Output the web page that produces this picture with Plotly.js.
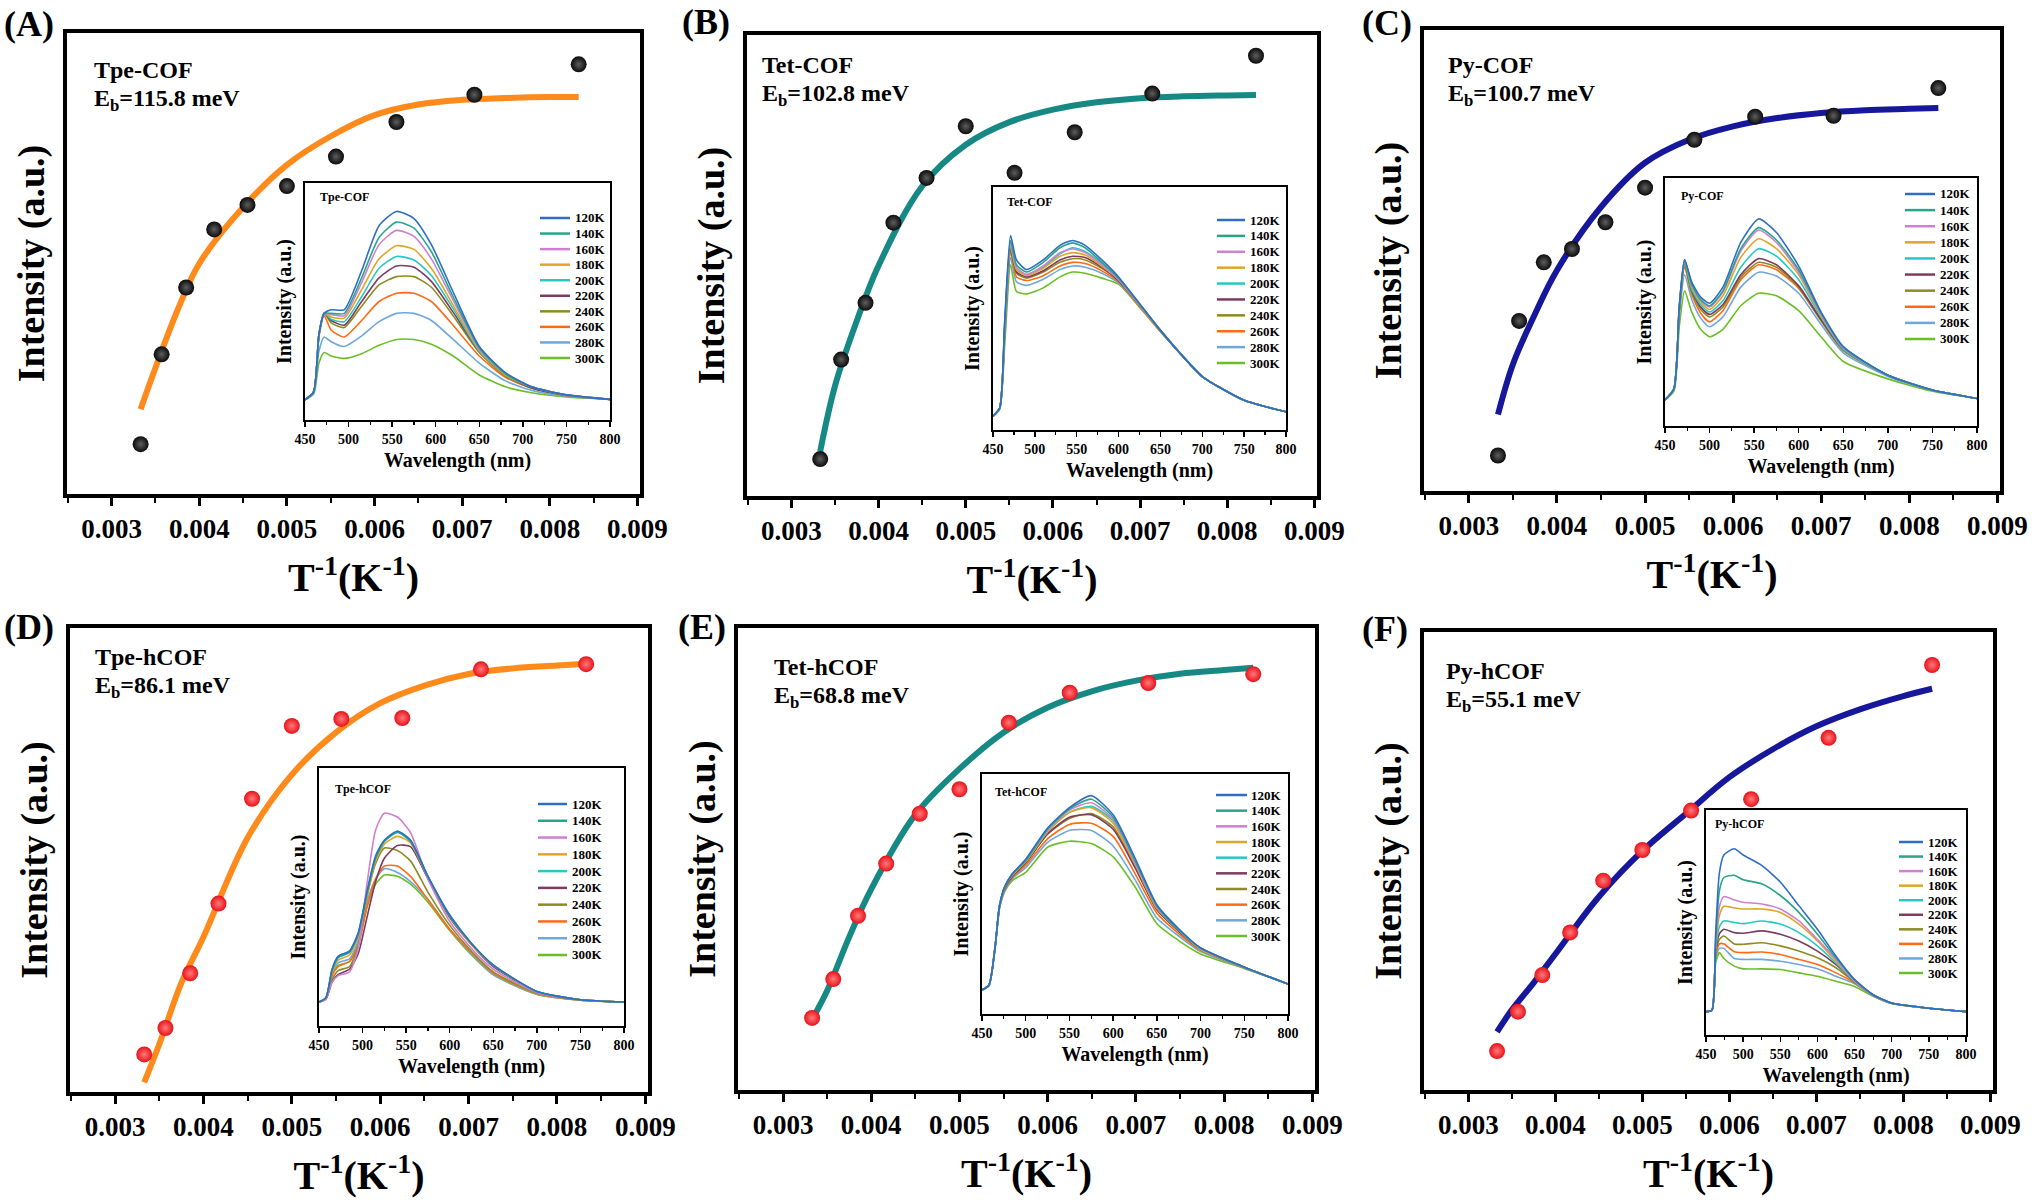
<!DOCTYPE html>
<html><head><meta charset="utf-8">
<script src="https://cdn.plot.ly/plotly-3.0.1.min.js"></script>
<style>html,body{margin:0;padding:0;background:#fff}#chart{width:2032px;height:1200px}</style>
</head><body><div id="chart"></div>
<script>
// ---------- main panels: 1/T (K^-1) vs integrated intensity (a.u., 0-100 scale) ----------
const invT = [0.00333, 0.00357, 0.00385, 0.00417, 0.00455, 0.00500, 0.00556, 0.00625, 0.00714, 0.00833];
const dotsA = [10.8, 30.3, 44.8, 57.4, 62.7, 66.8, 73.2, 80.7, 86.6, 93.2];
const dotsB = [8.0, 29.6, 41.9, 59.3, 69.0, 80.2, 70.1, 78.9, 87.3, 95.5];
const dotsC = [7.7, 36.9, 49.6, 52.5, 58.3, 65.8, 76.2, 81.2, 81.4, 87.4];
const dotsD = [8.1, 13.8, 25.6, 40.6, 63.2, 78.9, 80.4, 80.6, 91.1, 92.2];
const dotsE = [15.6, 24.0, 37.7, 49.0, 59.8, 65.1, 79.5, 86.0, 88.1, 90.0];
const dotsF = [8.5, 17.1, 25.1, 34.4, 45.7, 52.4, 61.0, 63.5, 76.9, 92.8];

const fitX = [0.00333, 0.0035, 0.00375, 0.004, 0.0045, 0.005, 0.0055, 0.006, 0.0065, 0.007, 0.0075, 0.008, 0.00833];
const fitA = [18.4, 27.4, 39.8, 50.0, 62.2, 71.4, 77.6, 82.2, 84.5, 85.5, 85.9, 86.1, 86.1];
const fitB = [9.7, 23.9, 38.0, 50.0, 67.2, 76.2, 81.1, 83.8, 85.4, 86.3, 86.7, 86.9, 87.0];
const fitC = [16.6, 27.5, 38.4, 47.9, 61.6, 71.2, 76.2, 79.1, 80.9, 82.0, 82.6, 82.9, 83.1];
const fitD = [2.1, 10.3, 23.5, 33.4, 54.8, 68.4, 77.5, 83.8, 87.6, 90.1, 91.3, 91.9, 92.3];
const fitE = [15.3, 21.5, 33.1, 43.5, 59.6, 69.5, 77.4, 82.8, 86.3, 88.6, 90.1, 90.9, 91.4];
const fitF = [12.7, 17.5, 23.4, 29.7, 42.2, 52.2, 60.3, 68.3, 74.4, 79.4, 83.1, 86.0, 87.6];

const xTickVals = [0.003, 0.004, 0.005, 0.006, 0.007, 0.008, 0.009];
const xTickText = ['0.003', '0.004', '0.005', '0.006', '0.007', '0.008', '0.009'];
const sampleNames = ['Tpe-COF', 'Tet-COF', 'Py-COF', 'Tpe-hCOF', 'Tet-hCOF', 'Py-hCOF'];
const bindingEnergies = ['115.8', '102.8', '100.7', '86.1', '68.8', '55.1'];
const panelLetters = ['(A)', '(B)', '(C)', '(D)', '(E)', '(F)'];

// ---------- insets: temperature-dependent PL spectra ----------
const tempLabels = ['120K', '140K', '160K', '180K', '200K', '220K', '240K', '260K', '280K', '300K'];
const wlTicks = [450, 500, 550, 600, 650, 700, 750, 800];

const wlA = [450, 460, 466, 472, 480, 495, 515, 535, 555, 575, 595, 620, 650, 680, 710, 750, 800];
const specA = [
  [8.5, 12, 36, 45, 46.5, 46.5, 63, 82, 88, 85, 74, 54, 31, 20, 14, 10.6, 8.7],
  [8.5, 12, 36, 45, 45, 45, 60, 77, 83.5, 81, 71, 52, 30.5, 19.5, 14, 10.6, 8.7],
  [8.5, 12, 36, 45, 44.5, 44, 58, 74, 80, 77.5, 68, 50.5, 30, 19.5, 14, 10.6, 8.7],
  [8.5, 12, 36, 45, 43.5, 43, 55, 68, 73.5, 72, 64, 48.5, 29.5, 19, 14, 10.5, 8.7],
  [8.5, 12, 36, 45, 42.5, 41.5, 52, 64, 69, 67.5, 61, 47, 29, 19, 14, 10.5, 8.7],
  [8.5, 12, 36, 45, 42, 40, 50, 60, 65, 64.5, 58.5, 45.5, 29, 19, 13.5, 10.5, 8.7],
  [8.5, 12, 36, 45, 41, 39, 48, 57, 60.5, 60.5, 56, 44, 28.5, 18.5, 13.5, 10.5, 8.7],
  [8.5, 12, 35, 44, 38, 35, 42, 50, 53.5, 53.5, 50, 40, 27, 18, 13.5, 10.3, 8.7],
  [8.5, 11.5, 29, 35, 33, 31, 35.5, 41.5, 45, 45, 42, 34, 24, 16.5, 12.5, 10, 8.7],
  [8.5, 11, 24, 28.5, 27, 26, 28, 31.5, 34, 34, 32, 27, 19, 14, 11.5, 9.7, 8.7]
];
const wlB = [450, 458, 464, 471, 478, 490, 510, 530, 545, 560, 580, 600, 625, 650, 675, 700, 750, 800];
const specB = [
  [5.7, 9, 45, 80, 70, 66, 70, 76, 78, 76, 70, 63, 52, 41, 31, 22, 12.2, 7.5],
  [5.7, 9, 44, 78, 68, 65, 69, 75, 77, 75, 69, 62.5, 52, 41, 31, 22, 12.2, 7.5],
  [5.7, 9, 43, 77, 67, 64, 67.5, 73, 74.5, 73, 68, 62, 51.5, 41, 31, 22, 12.2, 7.5],
  [5.7, 9, 42, 76, 66, 63.5, 66.5, 71.5, 73, 72, 67.5, 62, 51.5, 41, 31, 22, 12.2, 7.5],
  [5.7, 9, 42, 76, 66, 64, 67, 72.5, 75, 73.5, 68.5, 62.5, 52, 41, 31, 22, 12.2, 7.5],
  [5.7, 9, 41, 75, 65, 63, 65.5, 70, 71.5, 71, 67, 61.5, 51.5, 41, 31, 22, 12.2, 7.5],
  [5.7, 9, 41, 74, 64.5, 62.5, 65, 69, 70.5, 70, 66.5, 61.5, 51.5, 41, 31, 22, 12.2, 7.5],
  [5.7, 9, 40, 73, 63, 61.5, 63.5, 67.5, 69, 68.5, 65.5, 61, 51, 40.5, 31, 22, 12.2, 7.5],
  [5.7, 9, 38, 71, 61, 59.5, 62, 66, 67.5, 67, 64.5, 60.5, 51, 40.5, 31, 22, 12.2, 7.5],
  [5.7, 8.5, 35, 68, 57, 56, 58.5, 63, 65, 64.5, 62.5, 60, 50.5, 40.5, 31, 22, 12.2, 7.5]
];
const wlC = [450, 460, 466, 472, 480, 490, 500, 515, 535, 555, 575, 600, 625, 650, 700, 750, 800];
const specC = [
  [10.5, 15, 48, 67, 58, 52, 49.5, 56, 74, 83.5, 78, 64.5, 46, 32, 20.5, 14.5, 11.1],
  [10.5, 15, 48, 67, 57, 51, 48.5, 54.5, 71.5, 80, 75, 63, 45.5, 31.8, 20.5, 14.5, 11.1],
  [10.5, 15, 48, 67, 57, 50.5, 48, 54, 70.5, 79, 74, 62, 45, 31.5, 20.5, 14.5, 11.1],
  [10.5, 15, 48, 67, 56, 50, 47, 52.5, 68, 75.5, 71.5, 61, 44.5, 31.5, 20.5, 14.5, 11.1],
  [10.5, 15, 47, 66, 55, 49, 46, 50.5, 64, 71.5, 68.5, 59, 44, 31, 20.5, 14.5, 11.1],
  [10.5, 15, 47, 66, 54.5, 48, 45, 49, 61, 67.5, 65, 56.5, 43, 31, 20.5, 14.5, 11.1],
  [10.5, 15, 47, 65, 54, 47, 44, 48, 60, 66, 64, 56, 42.5, 30.5, 20.5, 14.5, 11.1],
  [10.5, 15, 46, 64, 53, 45.5, 42, 46.5, 59, 65, 63, 55.5, 42.5, 30.5, 20.5, 14.5, 11.1],
  [10.5, 15, 44, 61, 51, 43.5, 40, 44, 56, 62, 60.5, 53.5, 41, 29.5, 20, 14.3, 11.1],
  [10.5, 14, 40, 54.5, 46, 39, 36, 39, 48.5, 53.5, 52.5, 46.5, 36, 26, 19, 14, 11.1]
];
const wlD = [450, 458, 465, 472, 485, 495, 505, 515, 525, 540, 555, 575, 600, 625, 650, 700, 750, 800];
const specD = [
  [9.3, 11, 22, 27, 29, 36, 52, 66, 72, 75.5, 72, 58, 43, 32, 23.7, 13.4, 10.2, 9.3],
  [9.3, 11, 21.5, 26.5, 28.5, 35.5, 51, 65, 71.5, 75, 71.5, 58, 42.5, 32, 23.5, 13.4, 10.2, 9.3],
  [9.3, 10.5, 17, 19.5, 21, 30, 55, 76, 82.5, 81, 75, 57, 40.5, 30, 22, 13, 10.2, 9.3],
  [9.3, 11, 21, 25.5, 27.5, 34.5, 50, 64, 70.5, 73.5, 71, 57.5, 42.5, 31.5, 23.5, 13.4, 10.2, 9.3],
  [9.3, 11, 22, 27, 29, 36, 52, 65.5, 72, 75.5, 72, 58, 43, 32, 23.5, 13.4, 10.2, 9.3],
  [9.3, 10.5, 17, 20, 22, 28, 42, 56, 65, 70, 69.5, 57, 42, 31.5, 23, 13.3, 10.2, 9.3],
  [9.3, 10.5, 18, 21.5, 23, 31, 50, 63, 69, 68, 64, 51.9, 39, 29, 21, 12.8, 10.2, 9.3],
  [9.3, 10.8, 19.5, 23, 25, 31, 46, 57, 62, 62, 58, 49, 37.5, 28.5, 20.5, 12.6, 10, 9.3],
  [9.3, 10.8, 20.5, 24.5, 26, 33, 48, 57, 61, 59.5, 56, 49, 37.5, 28, 20, 12.4, 10, 9.3],
  [9.3, 10.8, 20, 23.5, 25, 32, 46, 55, 58.5, 58, 55, 48, 37, 27.5, 19.8, 12.2, 10, 9.3]
];
const wlE = [450, 458, 465, 470, 476, 485, 500, 525, 550, 575, 600, 625, 650, 675, 700, 750, 800];
const specE = [
  [10, 12, 28, 45, 53, 58.5, 64.5, 77.5, 86, 91, 83, 65, 45.5, 35.5, 27.5, 19.5, 12.5],
  [10, 12, 28, 45, 53, 58.5, 64, 77, 85.5, 89.5, 82, 64, 45, 35, 27.5, 19.5, 12.5],
  [10, 12, 28, 45, 53, 58.5, 64, 76.5, 85, 88, 81, 63, 44.5, 35, 27.5, 19.5, 12.5],
  [10, 12, 28, 45, 53, 58, 63.5, 76, 84, 86, 79.5, 62.5, 44, 35, 27, 19.5, 12.5],
  [10, 12, 28, 45, 53, 58, 63.5, 76, 84, 86.5, 80.5, 63, 44.5, 35, 27, 19.5, 12.5],
  [10, 12, 28, 45, 52.5, 57.5, 63, 75, 82, 83, 77, 61, 43.5, 34.5, 27, 19.5, 12.5],
  [10, 12, 28, 45, 52.5, 57.5, 63, 75, 81.5, 83.5, 78, 61.5, 43.5, 34.5, 27, 19.5, 12.5],
  [10, 12, 28, 44.5, 52, 57, 62, 73, 79, 79.5, 74, 58.5, 42, 33.5, 26.5, 19.3, 12.5],
  [10, 12, 27.5, 44, 51.5, 56.5, 61, 71.5, 76.5, 76.5, 70, 56, 40, 32.5, 26, 19.2, 12.5],
  [10, 12, 27.5, 44, 51, 55.7, 59, 69.5, 72, 71, 65.5, 53, 37.6, 30.6, 25, 19, 12.5]
];
const wlF = [450, 458, 463, 468, 474, 488, 500, 525, 550, 575, 600, 625, 650, 675, 700, 750, 800];
const specF = [
  [10.4, 11, 45, 72, 80, 82.8, 80, 75.4, 68, 57.5, 47, 35, 24.6, 17.9, 14.2, 11.9, 10.4],
  [10.4, 11, 42, 64, 70, 71, 69, 67.2, 62, 54.5, 44.8, 34.3, 24.6, 17.9, 14.2, 11.9, 10.4],
  [10.4, 11, 40, 57, 61.5, 60, 59, 58.2, 56, 50.7, 42.5, 33.6, 24, 17.8, 14.2, 11.9, 10.4],
  [10.4, 11, 39, 53, 57.2, 56.5, 56, 56, 54.5, 49.3, 41.8, 32.8, 24, 17.8, 14.2, 11.9, 10.4],
  [10.4, 11, 38, 48, 50.7, 50, 49.5, 50.7, 49.3, 45.5, 39.6, 32, 23.9, 17.8, 14.2, 11.9, 10.4],
  [10.4, 11, 37, 45, 47, 45.5, 45.2, 46.3, 44.8, 41.8, 37.3, 31.3, 23.9, 17.8, 14.2, 11.9, 10.4],
  [10.4, 11, 36, 42.5, 44, 40.5, 40.3, 41, 39.6, 37.3, 34.3, 29.9, 23.5, 17.6, 14.1, 11.9, 10.4],
  [10.4, 11, 35, 40.5, 40.5, 37, 36.6, 36.9, 35.8, 33.6, 31.3, 27.6, 23.2, 17.5, 14, 11.9, 10.4],
  [10.4, 11, 34, 38.5, 38.5, 34, 33.6, 33.6, 32.8, 31.3, 29.4, 26.1, 22.8, 17.4, 14, 11.9, 10.4],
  [10.4, 11, 32, 36.6, 34, 30.6, 29.4, 29.4, 29.1, 27.6, 26.1, 23.9, 21.6, 17.2, 14, 11.9, 10.4]
];

// ---------- styling / layout (pixels in the 2032x1200 page) ----------
const W = 2032, H = 1200;
const FONT = 'Liberation Serif, Times New Roman, serif';
const tempColors = ['#2e6fc4', '#27a589', '#cf80d0', '#dfa528', '#27c8c4', '#7c3b5f', '#8d8b22', '#ff6a13', '#6fa7dc', '#6abf25'];
const panels = [
  {dots: dotsA, fit: fitA, fitColor: '#ff8a1c', dotColor: '#0a0a0a', glow: '#5e5e5e', wl: wlA, spec: specA,
   box: [67, 33, 640, 494], inset: [305, 183, 610, 420], letter: [2, 24], name: [92, 70],
   ititle: [318, 197], leg: [540, 570, 573, 218, 358]},
  {dots: dotsB, fit: fitB, fitColor: '#168985', dotColor: '#0a0a0a', glow: '#5e5e5e', wl: wlB, spec: specB,
   box: [747, 35, 1317, 496], inset: [993, 187, 1286, 430], letter: [680, 22], name: [760, 65],
   ititle: [1005, 202], leg: [1217, 1245, 1248, 220, 363]},
  {dots: dotsC, fit: fitC, fitColor: '#17179c', dotColor: '#0a0a0a', glow: '#5e5e5e', wl: wlC, spec: specC,
   box: [1424, 30, 2000, 491], inset: [1665, 178, 1977, 426], letter: [1360, 23], name: [1446, 65],
   ititle: [1679, 196], leg: [1905, 1935, 1938, 194, 339]},
  {dots: dotsD, fit: fitD, fitColor: '#ff8a1c', dotColor: '#e8121a', glow: '#ff7a7a', wl: wlD, spec: specD,
   box: [70, 628, 648, 1092], inset: [319, 768, 624, 1026], letter: [2, 627], name: [93, 657],
   ititle: [333, 789], leg: [538, 567, 570, 804, 955]},
  {dots: dotsE, fit: fitE, fitColor: '#168985', dotColor: '#e8121a', glow: '#ff7a7a', wl: wlE, spec: specE,
   box: [738, 628, 1315, 1090], inset: [982, 774, 1288, 1014], letter: [676, 627], name: [772, 667],
   ititle: [993, 792], leg: [1216, 1247, 1249, 795, 936]},
  {dots: dotsF, fit: fitF, fitColor: '#17179c', dotColor: '#e8121a', glow: '#ff7a7a', wl: wlF, spec: specF,
   box: [1424, 632, 1993, 1090], inset: [1706, 810, 1966, 1035], letter: [1360, 629], name: [1444, 671],
   ititle: [1713, 824], leg: [1899, 1923, 1926, 842, 973]}
];

const px = v => v / W;
const py = v => 1 - v / H;
const bold = (size) => ({family: FONT, size: size, color: '#000', weight: 700});

const data = [];
const layout = {
  width: W, height: H, margin: {l: 0, r: 0, t: 0, b: 0},
  paper_bgcolor: '#fff', plot_bgcolor: '#fff', showlegend: false, hovermode: false,
  font: {family: FONT, color: '#000'},
  annotations: [], shapes: []
};

panels.forEach((p, i) => {
  const mi = i + 1, ii = i + 7;
  const mx = 'x' + (mi === 1 ? '' : mi), my = 'y' + (mi === 1 ? '' : mi);
  const ix = 'x' + ii, iy = 'y' + ii;
  const [l, t, r, b] = p.box;
  layout['xaxis' + (mi === 1 ? '' : mi)] = {
    domain: [px(l), px(r)], anchor: my, range: [0.00249, 0.00903],
    tickmode: 'array', tickvals: xTickVals, ticktext: xTickText,
    ticks: 'outside', ticklen: 8, tickwidth: 3, tickcolor: '#000',
    minor: {dtick: 0.0005, tick0: 0, ticks: 'outside', ticklen: 5, tickwidth: 2, tickcolor: '#000'},
    showline: true, linewidth: 4, linecolor: '#000', mirror: true,
    showgrid: false, zeroline: false, tickfont: bold(27),
    title: {text: 'T<sup>-1</sup>(K<sup>-1</sup>)', font: bold(40), standoff: 21}
  };
  layout['yaxis' + (mi === 1 ? '' : mi)] = {
    domain: [py(b), py(t)], anchor: mx, range: [0, 100],
    showticklabels: false, ticks: '', showline: true, linewidth: 4, linecolor: '#000', mirror: true,
    showgrid: false, zeroline: false,
    title: {text: 'Intensity (a.u.)', font: bold(38), standoff: 8}
  };
  const [il, it, ir, ib] = p.inset;
  layout['xaxis' + ii] = {
    domain: [px(il), px(ir)], anchor: iy, range: [450, 800],
    tickmode: 'array', tickvals: wlTicks,
    ticks: 'outside', ticklen: 5, tickwidth: 1.5, tickcolor: '#000',
    minor: {dtick: 25, tick0: 450, ticks: 'outside', ticklen: 3, tickwidth: 1.2, tickcolor: '#000'},
    showline: true, linewidth: 2, linecolor: '#000', mirror: true,
    showgrid: false, zeroline: false, tickfont: bold(14),
    title: {text: 'Wavelength (nm)', font: bold(20), standoff: 7}
  };
  layout['yaxis' + ii] = {
    domain: [py(ib), py(it)], anchor: ix, range: [0, 100],
    showticklabels: false, ticks: '', showline: true, linewidth: 2, linecolor: '#000', mirror: true,
    showgrid: false, zeroline: false,
    title: {text: 'Intensity (a.u.)', font: bold(20), standoff: 6}
  };

  // fit curve
  data.push({type: 'scatter', mode: 'lines', x: fitX, y: p.fit, xaxis: mx, yaxis: my,
    line: {color: p.fitColor, width: 6, shape: 'spline', smoothing: 1}});
  // data spheres
  data.push({type: 'scatter', mode: 'markers', x: invT, y: p.dots, xaxis: mx, yaxis: my,
    marker: {size: 16, color: p.dotColor, gradient: {type: 'radial', color: p.glow}, line: {width: 0}}});
  // spectra (300K drawn first so 120K ends on top)
  for (let k = p.spec.length - 1; k >= 0; k--) {
    data.push({type: 'scatter', mode: 'lines', x: p.wl, y: p.spec[k], xaxis: ix, yaxis: iy,
      name: tempLabels[k], line: {color: tempColors[k], width: 1.6, shape: 'spline', smoothing: 0.6}});
  }

  // text
  layout.annotations.push({xref: 'paper', yref: 'paper', x: px(p.letter[0]), y: py(p.letter[1]),
    xanchor: 'left', yanchor: 'middle', showarrow: false, text: panelLetters[i], font: bold(36)});
  layout.annotations.push({xref: 'paper', yref: 'paper', x: px(p.name[0]), y: py(p.name[1]),
    xanchor: 'left', yanchor: 'middle', showarrow: false, text: sampleNames[i], font: bold(24)});
  layout.annotations.push({xref: 'paper', yref: 'paper', x: px(p.name[0]), y: py(p.name[1] + 30),
    xanchor: 'left', yanchor: 'middle', showarrow: false,
    text: 'E<sub>b</sub>=' + bindingEnergies[i] + ' meV', font: bold(24)});
  layout.annotations.push({xref: 'paper', yref: 'paper', x: px(p.ititle[0]), y: py(p.ititle[1]),
    xanchor: 'left', yanchor: 'middle', showarrow: false, text: sampleNames[i], font: bold(12)});

  // inset legend
  const [lx0, lx1, tx, y0, y1] = p.leg;
  const step = (y1 - y0) / (tempLabels.length - 1);
  tempLabels.forEach((lab, k) => {
    const yy = y0 + k * step;
    layout.shapes.push({type: 'line', xref: 'paper', yref: 'paper', x0: px(lx0), x1: px(lx1),
      y0: py(yy), y1: py(yy), line: {color: tempColors[k], width: 2.5}});
    layout.annotations.push({xref: 'paper', yref: 'paper', x: px(tx), y: py(yy),
      xanchor: 'left', yanchor: 'middle', showarrow: false, text: lab, font: bold(13)});
  });
});

Plotly.newPlot('chart', data, layout, {displayModeBar: false, staticPlot: true});
</script>
</body></html>
